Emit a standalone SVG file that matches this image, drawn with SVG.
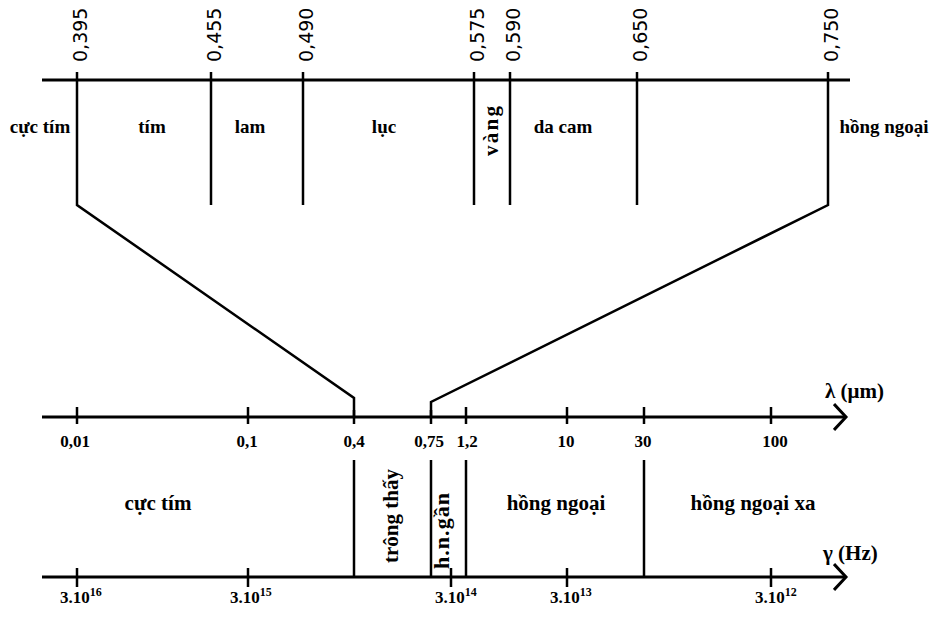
<svg xmlns="http://www.w3.org/2000/svg" width="930" height="617" viewBox="0 0 930 617">
<style>
.ax{stroke:#000;stroke-width:3;fill:none}
.ln{stroke:#000;stroke-width:2.5;fill:none}
.tk{stroke:#000;stroke-width:2.5}
.num{font-family:"DejaVu Sans",sans-serif;font-size:19px;fill:#000}
.lb{font-family:"Liberation Serif","Times New Roman",serif;font-weight:bold;fill:#000}
.top{font-size:19px}
.bot{font-size:21px}
.val{font-size:17px}
.sup{font-size:12px}
</style>
<defs>
<marker id="arr" markerWidth="16" markerHeight="30" refX="12" refY="14" orient="auto" markerUnits="userSpaceOnUse">
<path d="M1,1 L13,14 L1,27" fill="none" stroke="#000" stroke-width="3"/>
</marker>
</defs>
<rect width="930" height="617" fill="#fff"/>

<g id="connectors">
<line class="ax" x1="42" y1="80" x2="850" y2="80"/>
<g id="top-dividers">
<polyline class="ln" points="77,72 77,205 354,398 354,417"/>
<line class="ln" x1="211" y1="72" x2="211" y2="205"/>
<line class="ln" x1="303" y1="72" x2="303" y2="205"/>
<line class="ln" x1="474" y1="72" x2="474" y2="205"/>
<line class="ln" x1="510" y1="72" x2="510" y2="205"/>
<line class="ln" x1="637" y1="72" x2="637" y2="205"/>
<polyline class="ln" points="828,72 828,205 431,402 431,417"/>
</g>
<line class="ax" x1="42" y1="417" x2="845" y2="417" marker-end="url(#arr)"/>
<g id="lambda-ticks">
<line class="tk" x1="77" y1="407" x2="77" y2="424"/>
<line class="tk" x1="248" y1="407" x2="248" y2="424"/>
<line class="tk" x1="354" y1="410" x2="354" y2="424"/>
<line class="tk" x1="431" y1="410" x2="431" y2="424"/>
<line class="tk" x1="466" y1="407" x2="466" y2="424"/>
<line class="tk" x1="567" y1="407" x2="567" y2="424"/>
<line class="tk" x1="644" y1="407" x2="644" y2="424"/>
<line class="tk" x1="771" y1="407" x2="771" y2="424"/>
</g>
<g id="region-dividers">
<line class="ln" x1="354" y1="460" x2="354" y2="577"/>
<line class="ln" x1="431" y1="460" x2="431" y2="577"/>
<line class="ln" x1="466" y1="460" x2="466" y2="577"/>
<line class="ln" x1="644" y1="460" x2="644" y2="577"/>
</g>
<line class="ax" x1="42" y1="577" x2="845" y2="577" marker-end="url(#arr)"/>
<g id="freq-ticks">
<line class="tk" x1="77" y1="568" x2="77" y2="587"/>
<line class="tk" x1="248" y1="568" x2="248" y2="587"/>
<line class="tk" x1="451" y1="568" x2="451" y2="587"/>
<line class="tk" x1="567" y1="568" x2="567" y2="587"/>
<line class="tk" x1="771" y1="568" x2="771" y2="587"/>
</g>
</g>

<g id="top-scale">
<text class="num" transform="translate(87,62) rotate(-90)">0,395</text>
<text class="num" transform="translate(221,62) rotate(-90)">0,455</text>
<text class="num" transform="translate(313,62) rotate(-90)">0,490</text>
<text class="num" transform="translate(484,62) rotate(-90)">0,575</text>
<text class="num" transform="translate(520,62) rotate(-90)">0,590</text>
<text class="num" transform="translate(647,62) rotate(-90)">0,650</text>
<text class="num" transform="translate(838,62) rotate(-90)">0,750</text>
</g>

<g id="top-labels">
<text class="lb top" x="40" y="133" text-anchor="middle">cực tím</text>
<text class="lb top" x="152" y="133" text-anchor="middle">tím</text>
<text class="lb top" x="250" y="133" text-anchor="middle">lam</text>
<text class="lb top" x="384" y="133" text-anchor="middle">lục</text>
<text class="lb" font-size="21" transform="translate(498,131) rotate(-90)" text-anchor="middle" textLength="50">vàng</text>
<text class="lb top" x="563" y="133" text-anchor="middle">da cam</text>
<text class="lb top" x="884" y="133" text-anchor="middle">hồng ngoại</text>
</g>

<g id="lambda-labels">
<text class="lb val" x="75" y="447" text-anchor="middle">0,01</text>
<text class="lb val" x="247" y="447" text-anchor="middle">0,1</text>
<text class="lb val" x="354" y="447" text-anchor="middle">0,4</text>
<text class="lb val" x="429" y="447" text-anchor="middle">0,75</text>
<text class="lb val" x="467" y="447" text-anchor="middle">1,2</text>
<text class="lb val" x="566" y="447" text-anchor="middle">10</text>
<text class="lb val" x="643" y="447" text-anchor="middle">30</text>
<text class="lb val" x="775" y="447" text-anchor="middle">100</text>
<text class="lb bot" x="825" y="398">λ (μm)</text>
</g>

<g id="regions">
<text class="lb bot" x="158" y="510" text-anchor="middle">cực tím</text>
<text class="lb bot" transform="translate(398,516) rotate(-90)" text-anchor="middle">trông thấy</text>
<text class="lb" font-size="22" transform="translate(449,531) rotate(-90)" text-anchor="middle" textLength="76">h.n.gần</text>
<text class="lb bot" x="556" y="510" text-anchor="middle">hồng ngoại</text>
<text class="lb bot" x="753" y="510" text-anchor="middle">hồng ngoại xa</text>
</g>

<g id="freq-labels">
<text class="lb val" x="60" y="603">3.10<tspan class="sup" dy="-7">16</tspan></text>
<text class="lb val" x="230" y="603">3.10<tspan class="sup" dy="-7">15</tspan></text>
<text class="lb val" x="435" y="603">3.10<tspan class="sup" dy="-7">14</tspan></text>
<text class="lb val" x="550" y="603">3.10<tspan class="sup" dy="-7">13</tspan></text>
<text class="lb val" x="755" y="603">3.10<tspan class="sup" dy="-7">12</tspan></text>
<text class="lb bot" x="823" y="560">γ (Hz)</text>
</g>
</svg>
